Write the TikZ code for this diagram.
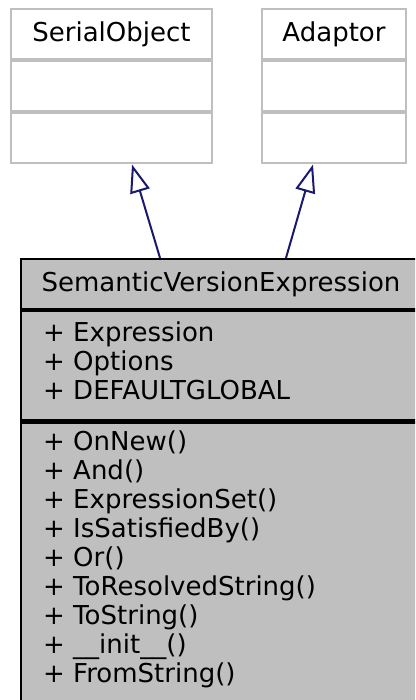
\documentclass[tikz,border=0pt]{standalone}
\usepackage{fontspec}
\setmainfont{DejaVu Sans}
\usetikzlibrary{arrows.meta,positioning}
\definecolor{boxgray}{HTML}{BFBFBF}
\definecolor{edgeblue}{HTML}{191970}

\begin{document}
\begin{tikzpicture}[x=1pt,y=-1pt,>={Triangle[open,length=28pt,width=20pt]},
  font=\fontsize{26}{29}\selectfont,
  parent/.style={draw=boxgray,line width=2pt,inner sep=0pt,minimum width=201pt,minimum height=50pt},
  cls/.style={draw=black,fill=boxgray,line width=2.2pt,inner sep=0pt,minimum width=400pt},
  member/.style={anchor=base west,inner sep=0pt},
  inherit/.style={draw=edgeblue,line width=2pt,->}]
\useasboundingbox (0,0) rectangle (415,700);
\clip (0,0) rectangle (415,700);
% base classes
\node[parent] (serialname) at (111.5,34.5) {SerialObject};
\node[parent,below=0pt of serialname] (serialattr) {};
\node[parent,below=0pt of serialattr] (serialops) {};
\node[parent,minimum width=144pt] (adaptorname) at (334,34.5) {Adaptor};
\node[parent,minimum width=144pt,below=0pt of adaptorname] (adaptorattr) {};
\node[parent,minimum width=144pt,below=0pt of adaptorattr] (adaptorops) {};
% derived class
\node[cls,minimum height=50pt] (mainname) at (221,284) {SemanticVersionExpression};
\node[cls,minimum height=109pt,below=0pt of mainname] (mainattr) {};
\node[cls,minimum height=284pt,below=0pt of mainattr] (mainops) {};
\foreach \txt [count=\i] in {Expression,Options,DEFAULTGLOBAL}
  \node[member] (attr\i) at (43,312+29*\i) {+ \txt};
\foreach \txt [count=\i] in {OnNew(),And(),ExpressionSet(),IsSatisfiedBy(),Or(),
    ToResolvedString(),ToString(),\_\_init\_\_(),FromString()}
  \node[member] (op\i) at (43,421+29*\i) {+ \txt};
% inheritance
\draw[inherit] ([xshift=-61pt]mainname.north) -- ([xshift=20.5pt]serialops.south);
\draw[inherit] ([xshift=65pt]mainname.north) -- ([xshift=-21pt]adaptorops.south);
\end{tikzpicture}
\end{document}
